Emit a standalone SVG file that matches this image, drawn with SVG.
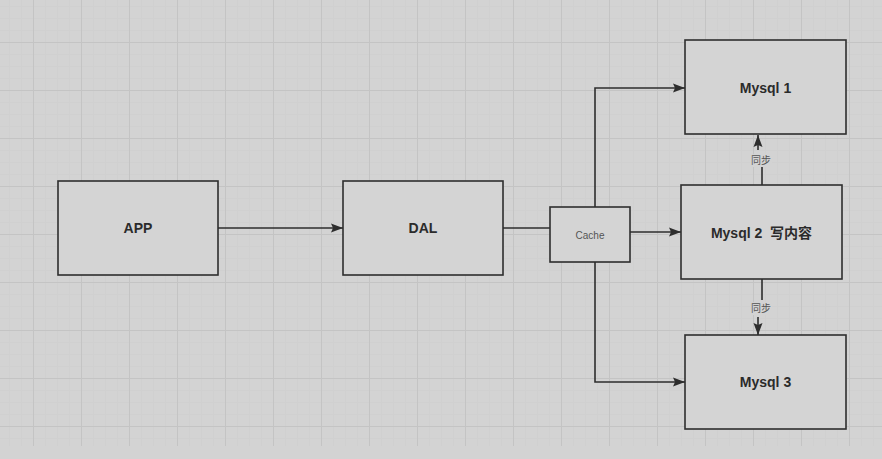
<svg xmlns="http://www.w3.org/2000/svg" width="882" height="459" viewBox="0 0 882 459">
  <defs>
    <style>
      .box { fill: #d4d4d4; stroke: #2e2e2e; stroke-width: 1.6; }
      .lbl { font-family: "Liberation Sans", "Noto Sans CJK SC", sans-serif; font-weight: 700; font-size: 14px; fill: #2b2b2b; text-anchor: middle; dominant-baseline: central; white-space: pre; }
      .small { font-family: "Liberation Sans", "Noto Sans CJK SC", sans-serif; font-size: 10px; fill: #555; text-anchor: middle; dominant-baseline: central; }
      .edge { fill: none; stroke: #2e2e2e; stroke-width: 1.6; }
      .major { stroke: #c4c4c4; stroke-width: 1; }
      .minor { stroke: #cdcdcd; stroke-width: 1; }
    </style>
    <pattern id="gridMinor" x="9" y="6" width="12" height="12" patternUnits="userSpaceOnUse">
      <path d="M0.5 0 V12 M0 0.5 H12" class="minor"/>
    </pattern>
    <pattern id="gridMajor" x="33" y="42" width="48" height="48" patternUnits="userSpaceOnUse">
      <path d="M0.5 0 V48 M0 0.5 H48" class="major"/>
    </pattern>
    <marker id="arr" viewBox="0 0 12 10" refX="12" refY="5" markerWidth="12" markerHeight="10" markerUnits="userSpaceOnUse" orient="auto">
      <path d="M0 0.5 L12 5 L0 9.5 L2 5 Z" fill="#2e2e2e"/>
    </marker>
  </defs>

  <rect x="0" y="0" width="882" height="459" fill="#d3d3d3"/>
  <rect x="0" y="0" width="882" height="446" fill="url(#gridMinor)" opacity="0.5"/>
  <rect x="0" y="0" width="882" height="446" fill="url(#gridMajor)"/>

  <g id="connectors">
    <path class="edge" d="M218 228 H343" marker-end="url(#arr)"/>
    <path class="edge" d="M503 228 H550"/>
    <path class="edge" d="M630 232 H681" marker-end="url(#arr)"/>
    <path class="edge" d="M595 207 V88 H685" marker-end="url(#arr)"/>
    <path class="edge" d="M595 262 V382 H685" marker-end="url(#arr)"/>
    <path class="edge" d="M762 185 V154 M758 150 V135" marker-end="url(#arr)"/>
    <path class="edge" d="M762 279 V300 M758 317 V335" marker-end="url(#arr)"/>
    <rect x="750" y="154" width="22" height="13" fill="#d3d3d3"/>
    <text class="small" x="761" y="160.5">同步</text>
    <rect x="750" y="302" width="22" height="13" fill="#d3d3d3"/>
    <text class="small" x="761" y="308.5">同步</text>
  </g>

  <g id="app">
    <rect class="box" x="58" y="181" width="160" height="94"/>
    <text class="lbl" x="138" y="228">APP</text>
  </g>
  <g id="dal">
    <rect class="box" x="343" y="181" width="160" height="94"/>
    <text class="lbl" x="423" y="228">DAL</text>
  </g>
  <g id="cache">
    <rect class="box" x="550" y="207" width="80" height="55"/>
    <text class="small" x="590" y="235">Cache</text>
  </g>
  <g id="mysql1">
    <rect class="box" x="685" y="40" width="161" height="94"/>
    <text class="lbl" x="765.5" y="88">Mysql 1</text>
  </g>
  <g id="mysql2">
    <rect class="box" x="681" y="185" width="161" height="94"/>
    <text class="lbl" x="761.5" y="233" xml:space="preserve">Mysql 2  写内容</text>
  </g>
  <g id="mysql3">
    <rect class="box" x="685" y="335" width="161" height="94"/>
    <text class="lbl" x="765.5" y="382">Mysql 3</text>
  </g>
</svg>
